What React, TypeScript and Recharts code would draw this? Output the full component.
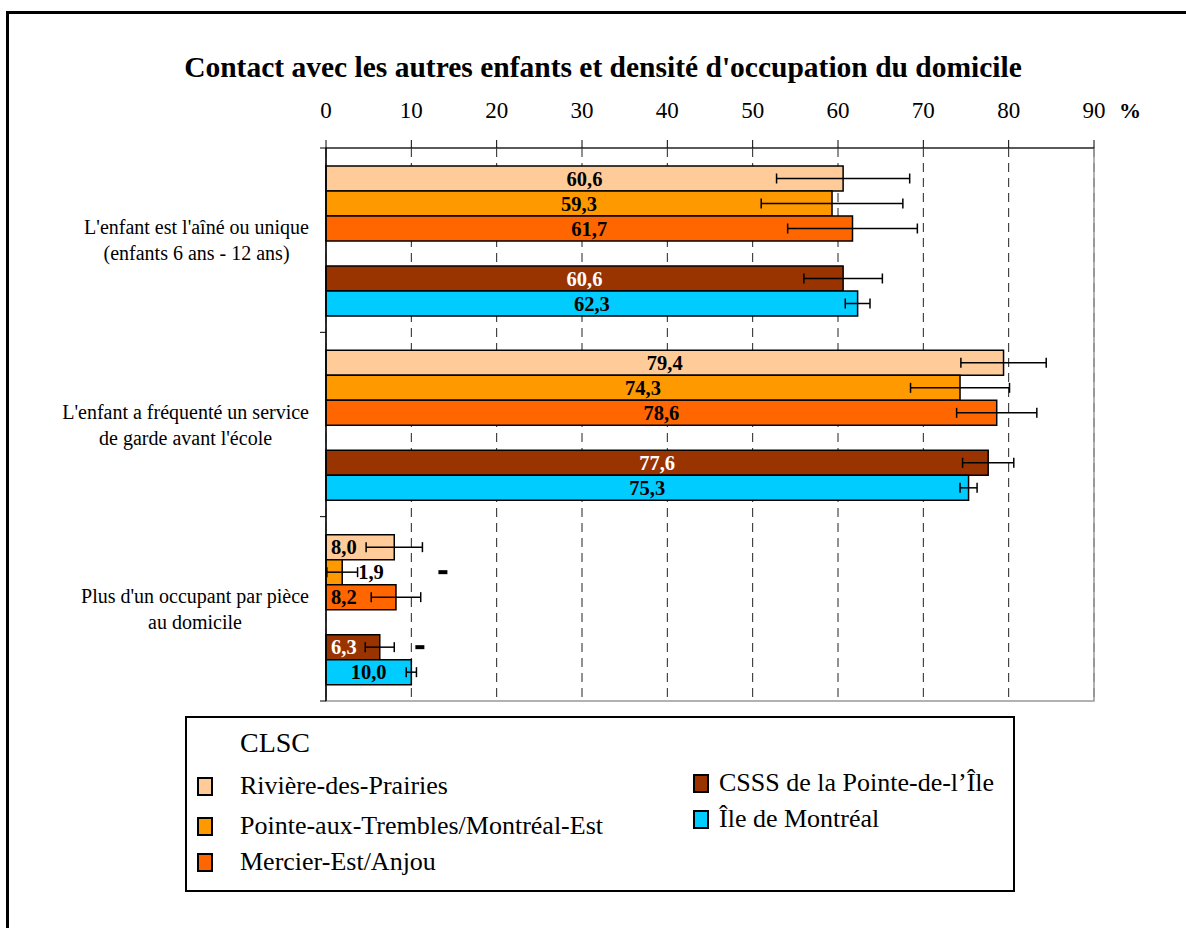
import React from 'react'
import { BarChart, Bar, XAxis, YAxis, CartesianGrid, ErrorBar, LabelList, ReferenceArea } from 'recharts'

/* ── Data ── */

const CATEGORIES = [
  "L'enfant est l'aîné ou unique\n(enfants 6 ans - 12 ans)",
  "L'enfant a fréquenté un service\nde garde avant l'école",
  "Plus d'un occupant par pièce\nau domicile",
]

const RDP = [60.6, 79.4, 8.0]
const PAT = [59.3, 74.3, 1.9]
const MEA = [61.7, 78.6, 8.2]
const CSSS = [60.6, 77.6, 6.3]
const MTL = [62.3, 75.3, 10.0]

// half-width of the confidence intervals
const RDP_ERR = [7.8, 5.0, 3.3]
const PAT_ERR = [8.3, 5.8, 1.8]
const MEA_ERR = [7.6, 4.7, 2.9]
const CSSS_ERR = [4.6, 3.0, 1.7]
const MTL_ERR = [1.45, 1.0, 0.6]

// where the "-" significance marks sit (in %)
const PAT_MARK = [null, null, 13.7]
const CSSS_MARK = [null, null, 11.0]

const X_TICKS = [0, 10, 20, 30, 40, 50, 60, 70, 80, 90]

const SERIES = [
  { key: 'rdp', name: 'Rivière-des-Prairies', color: '#FFCC99', text: '#000' },
  { key: 'pat', name: 'Pointe-aux-Trembles/Montréal-Est', color: '#FF9900', text: '#000' },
  { key: 'mea', name: 'Mercier-Est/Anjou', color: '#FF6600', text: '#000' },
  { key: 'gap', name: '', color: 'none', text: '#000' },
  { key: 'csss', name: 'CSSS de la Pointe-de-l\u2019Île', color: '#993300', text: '#fff' },
  { key: 'mtl', name: 'Île de Montréal', color: '#00CCFF', text: '#000' },
]

const data = CATEGORIES.map((name, i) => ({
  name,
  rdp: RDP[i], rdpErr: RDP_ERR[i],
  pat: PAT[i], patErr: PAT_ERR[i],
  mea: MEA[i], meaErr: MEA_ERR[i],
  gap: null,
  csss: CSSS[i], csssErr: CSSS_ERR[i],
  mtl: MTL[i], mtlErr: MTL_ERR[i],
}))

const MARKS: Record<string, (number | null)[]> = { pat: PAT_MARK, csss: CSSS_MARK }

/* ── Layout ── */

const W = 1186
const H = 928
const PLOT_LEFT = 326
const PLOT_TOP = 148
const PLOT_BOTTOM = 701
const PLOT_RIGHT = 1094
const PLOT_H = PLOT_BOTTOM - PLOT_TOP
const LABEL_RIGHT = 309
const FONT = '"Liberation Serif", "Times New Roman", serif'
const CAT_FONT = 20

let ctx: CanvasRenderingContext2D | null = null
function measure(t: string, font: string) {
  if (!ctx) ctx = document.createElement('canvas').getContext('2d')
  if (!ctx) return t.length * 9
  ctx.font = font
  return ctx.measureText(t).width
}

const fmt = (v: number) => v.toFixed(1).replace('.', ',')

function CategoryTick(props: any) {
  const { y, payload, index } = props
  const lines = String(payload.value).split('\n')
  const w = Math.max(...lines.map(l => measure(l, `${CAT_FONT}px "Liberation Serif"`)))
  const cx = LABEL_RIGHT - w / 2
  const half = PLOT_H / CATEGORIES.length / 2
  return (
    <g>
      <line x1={PLOT_LEFT - 6} x2={PLOT_LEFT} y1={y - half} y2={y - half} stroke="#000" />
      {index === CATEGORIES.length - 1 && (
        <line x1={PLOT_LEFT - 6} x2={PLOT_LEFT} y1={y + half} y2={y + half} stroke="#000" />
      )}
      <text x={cx} y={y} textAnchor="middle" fontSize={CAT_FONT} fontFamily={FONT} fill="#000">
        {lines.map((l, i) => (
          <tspan key={i} x={cx} dy={i === 0 ? -6 : 26}>{l}</tspan>
        ))}
      </text>
    </g>
  )
}

function ValueTick(props: any) {
  const { x, y, payload } = props
  return (
    <text x={x} y={y} textAnchor="middle" fontSize={23} fontFamily={FONT} fill="#000">
      {payload.value}
    </text>
  )
}

const makeLabel = (key: string, color: string) => (props: any) => {
  const vb = props.viewBox ?? {}
  const x = props.x ?? vb.x
  const y = props.y ?? vb.y
  const width = props.width ?? vb.width
  const height = props.height ?? vb.height
  const { value, index } = props
  if (value == null || x == null) return null
  const cy = y + height / 2 + 7
  let tx = x + width / 2
  let anchor: 'middle' | 'start' = 'middle'
  if (width < 40) { tx = x + width + 16; anchor = 'start' }
  else if (width < 75) { tx = x + 5; anchor = 'start' }
  const mark = MARKS[key]?.[index]
  return (
    <g>
      <text x={tx} y={cy} textAnchor={anchor} fontSize={20.5} fontWeight="bold" fontFamily={FONT} fill={color}>
        {fmt(value)}
      </text>
      {mark != null && (
        <rect x={x + (mark * width) / value - 4.5} y={y + height / 2 - 2} width={9} height={4} fill="#000" />
      )}
    </g>
  )
}

function LegendBox() {
  const items = SERIES.filter(s => s.key !== 'gap')
  const pos = [
    { left: 10, top: 55 },
    { left: 10, top: 95 },
    { left: 10, top: 131 },
    { left: 506, top: 52 },
    { left: 506, top: 88 },
  ]
  return (
    <div style={{
      position: 'absolute', left: 185, top: 716, width: 826, height: 172,
      border: '2px solid #000', background: '#fff', fontFamily: FONT,
    }}>
      <div style={{ position: 'absolute', left: 53, top: 11, fontSize: 28, lineHeight: 1 }}>CLSC</div>
      {items.map((s, i) => (
        <div key={s.key} style={{ position: 'absolute', left: pos[i].left, top: pos[i].top, height: 26, display: 'flex', alignItems: 'center' }}>
          <div style={{ width: 16, height: 19, background: s.color, border: '2px solid #000', boxSizing: 'border-box' }} />
          <div style={{ marginLeft: i < 3 ? 27 : 10, fontSize: 26, lineHeight: 1, whiteSpace: 'nowrap' }}>{s.name}</div>
        </div>
      ))}
    </div>
  )
}

export default function App() {
  return (
    <div style={{ position: 'absolute', left: 0, top: 0, width: W, height: H, background: '#fff', overflow: 'hidden' }}>
      <div style={{
        position: 'absolute', left: 6, top: 11, width: W + 20, height: H + 20,
        borderTop: '3px solid #000', borderLeft: '3px solid #000',
      }} />
      <div style={{
        position: 'absolute', left: 0, top: 53, width: 1206, textAlign: 'center',
        fontFamily: FONT, fontWeight: 'bold', fontSize: 29.5, lineHeight: 1, whiteSpace: 'nowrap',
      }}>
        Contact avec les autres enfants et densité d'occupation du domicile
      </div>
      <div style={{ position: 'absolute', left: 0, top: 0 }}>
        <BarChart
          width={W}
          height={H}
          data={data}
          layout="vertical"
          margin={{ top: PLOT_TOP - 40, right: W - PLOT_RIGHT, bottom: H - PLOT_BOTTOM, left: PLOT_LEFT - 300 }}
          barCategoryGap={18}
          barGap={0}
        >
          <CartesianGrid horizontal={false} stroke="#222" strokeDasharray="9 6" />
          <ReferenceArea x1={0} x2={90} stroke="#999" strokeWidth={1.5} fill="none" fillOpacity={0} ifOverflow="visible" />
          <XAxis
            type="number"
            orientation="top"
            domain={[0, 90]}
            ticks={X_TICKS}
            interval={0}
            height={40}
            tickSize={8}
            tickMargin={22}
            tick={<ValueTick />}
            axisLine={{ stroke: '#000' }}
            tickLine={{ stroke: '#000' }}
            label={{
              content: (p: any) => {
                const vb = p.viewBox
                return (
                  <text x={vb.x + vb.width + 36} y={PLOT_TOP - 30} textAnchor="middle" fontSize={22} fontWeight="bold" fontFamily={FONT}>%</text>
                )
              },
            }}
          />
          <YAxis
            type="category"
            dataKey="name"
            width={300}
            tickLine={false}
            axisLine={{ stroke: '#000', strokeWidth: 1.5 }}
            tick={<CategoryTick />}
            interval={0}
          />
          {SERIES.map(s => (
            <Bar
              key={s.key}
              dataKey={s.key}
              fill={s.color}
              stroke="#000"
              strokeWidth={1.5}
              isAnimationActive={false}
            >
              {s.key !== 'gap' && (
                <ErrorBar dataKey={`${s.key}Err`} direction="x" width={5} stroke="#000" strokeWidth={1.5} isAnimationActive={false} />
              )}
              {s.key !== 'gap' && <LabelList dataKey={s.key} content={makeLabel(s.key, s.text)} />}
            </Bar>
          ))}
        </BarChart>
      </div>
      <LegendBox />
    </div>
  )
}
